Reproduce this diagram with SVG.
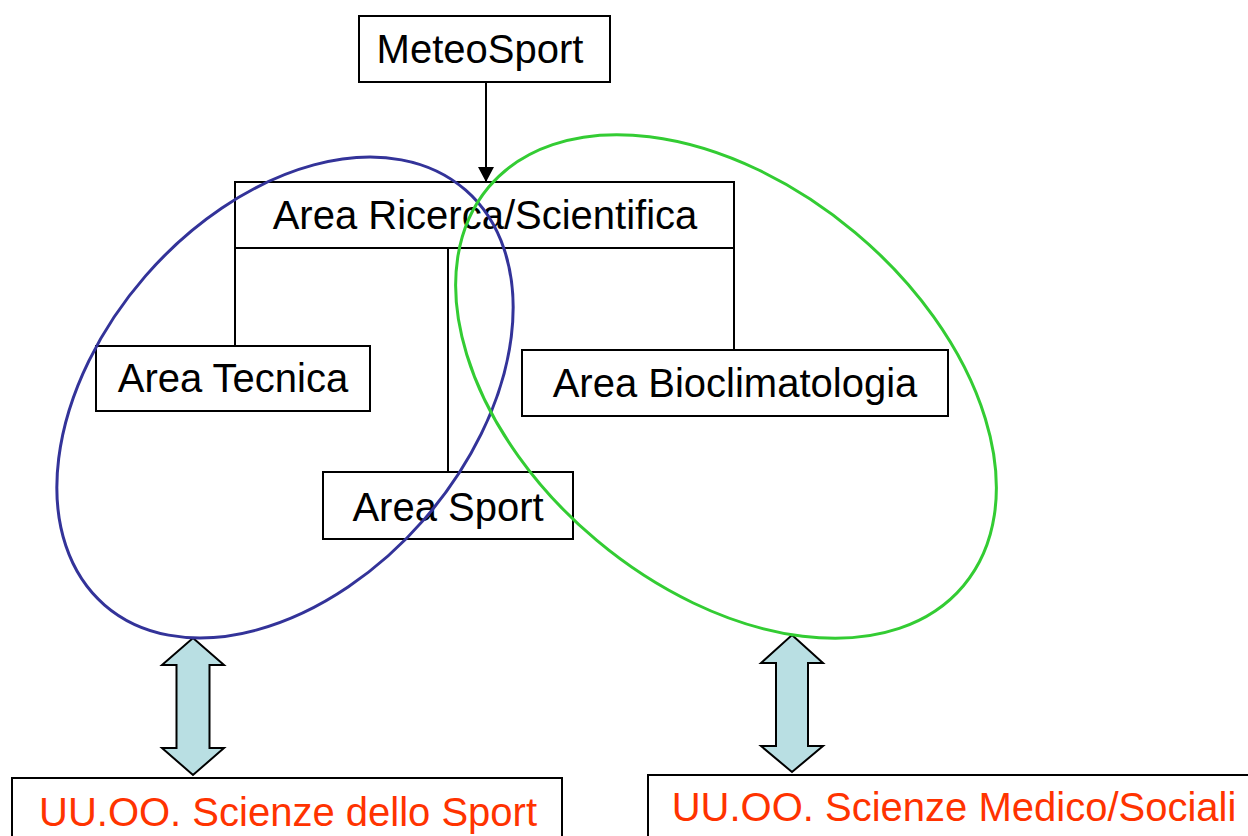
<svg xmlns="http://www.w3.org/2000/svg" width="1248" height="836" viewBox="0 0 1248 836">
<style>
.box{fill:#ffffff;stroke:#000000;stroke-width:2}
.lbl{font-family:"Liberation Sans",Arial,sans-serif;font-size:40px;fill:#000000;text-anchor:middle}
.red{fill:#ff3300}
.conn{stroke:#000000;stroke-width:2;fill:none}
.dbl{fill:#b9dfe3;stroke:#000000;stroke-width:2;stroke-linejoin:miter}
</style>
<defs>
<marker id="ah" markerWidth="16" markerHeight="16" refX="15" refY="8" orient="auto" markerUnits="userSpaceOnUse">
<path d="M0,0 L15,8 L0,16 Z" fill="#000000"/>
</marker>
</defs>
<rect width="1248" height="836" fill="#ffffff"/>
<g id="meteosport"><rect class="box" x="359" y="16" width="251" height="66"/><text class="lbl" x="480" y="63">MeteoSport</text></g>
<g id="ricerca"><rect class="box" x="235" y="182" width="499" height="66"/><text class="lbl" x="485" y="229">Area Ricerca/Scientifica</text></g>
<g id="tecnica"><rect class="box" x="96" y="346" width="274" height="65"/><text class="lbl" x="233" y="392">Area Tecnica</text></g>
<g id="bioclimatologia"><rect class="box" x="522" y="350" width="426" height="66"/><text class="lbl" x="735" y="397">Area Bioclimatologia</text></g>
<g id="sport"><rect class="box" x="323" y="472" width="250" height="67"/><text class="lbl" x="448" y="521">Area Sport</text></g>
<g id="scienze-sport"><rect class="box" x="12" y="778" width="550" height="70"/><text class="lbl red" x="288" y="826">UU.OO. Scienze dello Sport</text></g>
<g id="scienze-medico"><rect class="box" x="648" y="775" width="610" height="70"/><text class="lbl red" x="954" y="821">UU.OO. Scienze Medico/Sociali</text></g>
<g id="connectors">
<line class="conn" x1="486" y1="82" x2="486" y2="182" marker-end="url(#ah)"/>
<line class="conn" x1="235" y1="248" x2="235" y2="346"/>
<line class="conn" x1="448" y1="248" x2="448" y2="472"/>
<line class="conn" x1="734" y1="248" x2="734" y2="350"/>
<path class="dbl" d="M193,638 L224,665 L209.5,665 L209.5,748 L224,748 L193,775 L162,748 L176.5,748 L176.5,665 L162,665 Z"/>
<path class="dbl" d="M792,635 L823,663 L808,663 L808,746 L823,746 L792,772 L761,746 L776,746 L776,663 L761,663 Z"/>
</g>
<g id="group-sport"><ellipse cx="285" cy="397.5" rx="275" ry="185" transform="rotate(-49 285 397.5)" fill="none" stroke="#333399" stroke-width="3"/></g>
<g id="group-medico"><ellipse cx="726" cy="386.5" rx="310" ry="201" transform="rotate(40 726 386.5)" fill="none" stroke="#33cc33" stroke-width="3"/></g>
</svg>
